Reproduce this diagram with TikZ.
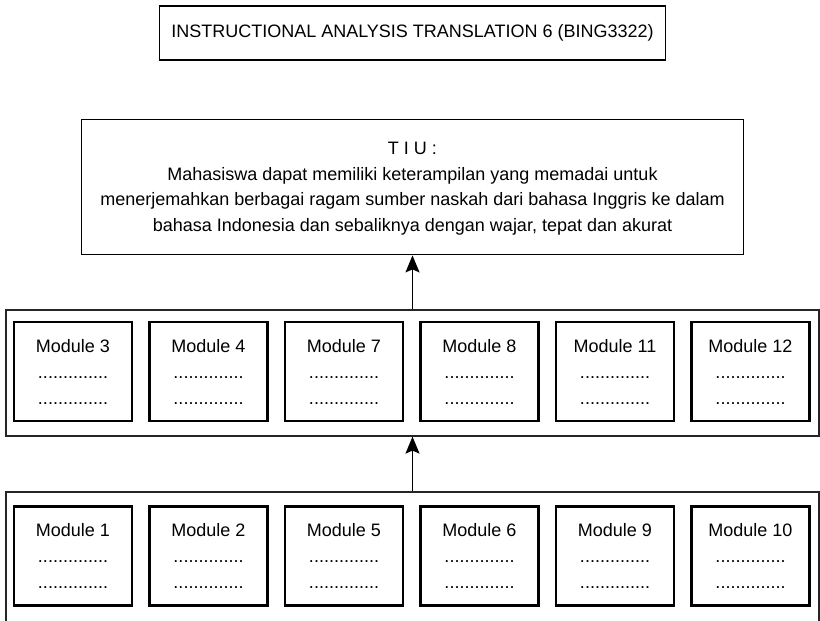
\documentclass[tikz,border=0pt]{standalone}
\usepackage{fontspec}
\setmainfont{Liberation Sans}
\usetikzlibrary{arrows.meta}

\begin{document}
\begin{tikzpicture}[x=1pt,y=-1pt,
        every node/.style={font=\fontsize{18}{26}\selectfont,inner sep=0pt},
        modbox/.style={draw,line width=2.2pt,minimum width=118pt,minimum height=99pt,align=center},
        rowbox/.style={draw=black!85,line width=1.2pt,minimum width=813pt},
        goalbox/.style={draw,line width=1.8pt,align=center},
        uparrow/.style={-{Stealth[length=17pt,width=14pt,inset=3pt]},line width=1.4pt}]
        \useasboundingbox (0,0) rectangle (820,621);
        \node[goalbox,minimum width=506pt,minimum height=54pt] (title) at (412.5,33) {INSTRUCTIONAL ANALYSIS TRANSLATION 6 (BING3322)};
        \node[goalbox,minimum width=662pt,minimum height=135pt,text depth=0pt,font=\fontsize{18}{25.5}\selectfont] (tiu) at (412.5,187) {T I U :\\
            Mahasiswa dapat memiliki keterampilan yang memadai untuk\\
            menerjemahkan berbagai ragam sumber naskah dari bahasa Inggris ke dalam\\
            bahasa Indonesia dan sebaliknya dengan wajar, tepat dan akurat};
        % upper row of modules
        \node[rowbox,minimum height=126pt] (rowa) at (412.5,373) {};
        \node[modbox] (m3) at (73,371.5) {Module 3\\..............\\..............};
        \node[modbox] (m4) at (208.5,371.5) {Module 4\\..............\\..............};
        \node[modbox] (m7) at (344,371.5) {Module 7\\..............\\..............};
        \node[modbox] (m8) at (479.5,371.5) {Module 8\\..............\\..............};
        \node[modbox] (m11) at (615,371.5) {Module 11\\..............\\..............};
        \node[modbox] (m12) at (750.5,371.5) {Module 12\\..............\\..............};
        % lower row of modules
        \node[rowbox,minimum height=140pt] (rowb) at (412.5,562) {};
        \node[modbox] (m1) at (73,556) {Module 1\\..............\\..............};
        \node[modbox] (m2) at (208.5,556) {Module 2\\..............\\..............};
        \node[modbox] (m5) at (344,556) {Module 5\\..............\\..............};
        \node[modbox] (m6) at (479.5,556) {Module 6\\..............\\..............};
        \node[modbox] (m9) at (615,556) {Module 9\\..............\\..............};
        \node[modbox] (m10) at (750.5,556) {Module 10\\..............\\..............};
        \draw[uparrow] (rowa) -- (tiu);
        \draw[uparrow] (rowb) -- (rowa);
\end{tikzpicture}
\end{document}
